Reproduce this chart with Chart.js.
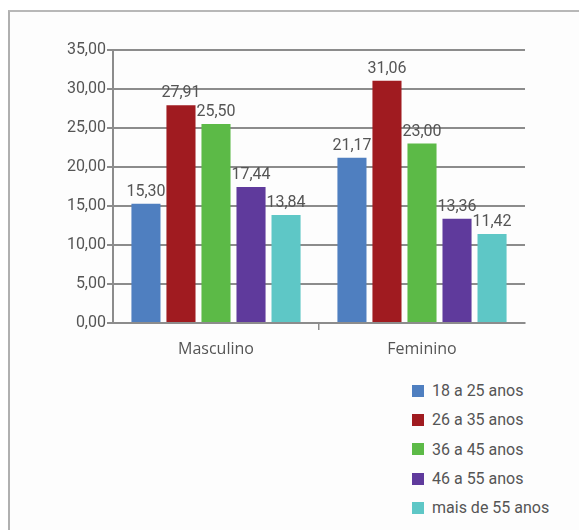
<!DOCTYPE html>
<html>
<head>
<meta charset="utf-8">
<script src="https://cdn.jsdelivr.net/npm/chart.js@4/dist/chart.umd.min.js"></script>
<style>
  html, body { margin: 0; padding: 0; background: #ffffff; }
  body { width: 579px; height: 530px; position: relative; overflow: hidden; }
  #frame {
    position: absolute; left: 8px; top: 10px; width: 580px; height: 530px;
    border-left: 2px solid #b0b0b0; border-top: 2px solid #b8b8b8;
    background: #fdfdfd;
  }
  #wrap { position: absolute; left: 0; top: 0; width: 579px; height: 370px; }
  #legend {
    position: absolute; left: 412px; top: 376px;
    font-family: Roboto, "Noto Sans", sans-serif; font-size: 16px; color: #555;
  }
  .item { display: flex; align-items: center; height: 29.3px; }
  .box { width: 12px; height: 12px; margin-right: 8px; }
</style>
</head>
<body>
<div id="frame"></div>
<div id="wrap"><canvas id="c" width="579" height="370"></canvas></div>
<div id="legend"></div>
<script>
// Categories, age groups and their percentages
const categories = ["Masculino", "Feminino"];
const ageGroups = ["18 a 25 anos", "26 a 35 anos", "36 a 45 anos", "46 a 55 anos", "mais de 55 anos"];
const values18to25 = [15.30, 21.17];
const values26to35 = [27.91, 31.06];
const values36to45 = [25.50, 23.00];
const values46to55 = [17.44, 13.36];
const valuesOver55 = [13.84, 11.42];
const yTicks = [0, 5, 10, 15, 20, 25, 30, 35];
const colors = ["#4f7fc0", "#a01b20", "#5cba47", "#5f3a9c", "#5ec7c6"];

const seriesValues = [values18to25, values26to35, values36to45, values46to55, valuesOver55];
const fmt = v => v.toFixed(2).replace(".", ",");

const datasets = ageGroups.map((label, i) => ({
  label,
  data: seriesValues[i],
  backgroundColor: colors[i],
  borderWidth: 0,
  barPercentage: 0.83,
  categoryPercentage: 0.85
}));

// Value labels above each bar
const valueLabels = {
  id: "valueLabels",
  afterDatasetsDraw(chart) {
    const ctx = chart.ctx;
    ctx.save();
    ctx.font = "16px Roboto, 'Noto Sans', sans-serif";
    ctx.fillStyle = "#555";
    ctx.textAlign = "center";
    ctx.textBaseline = "bottom";
    chart.data.datasets.forEach((ds, i) => {
      chart.getDatasetMeta(i).data.forEach((bar, j) => {
        ctx.fillText(fmt(ds.data[j]), bar.x, bar.y - 4);
      });
    });
    ctx.restore();
  }
};

new Chart(document.getElementById("c"), {
  type: "bar",
  data: { labels: categories, datasets },
  options: {
    responsive: false,
    animation: false,
    devicePixelRatio: 1,
    layout: { padding: { left: 0, right: 54, top: 50, bottom: 7 } },
    plugins: { legend: { display: false }, tooltip: { enabled: false } },
    scales: {
      x: {
        grid: {
          drawOnChartArea: false,
          drawTicks: true,
          tickLength: 7,
          color: ctx => (ctx.index === 1 ? "#8c8c8c" : "rgba(0,0,0,0)"),
          lineWidth: 1.5
        },
        border: { color: "#8c8c8c", width: 2 },
        ticks: {
          padding: 10,
          color: "#555",
          font: { family: "'Open Sans', 'Noto Sans', sans-serif", size: 16 }
        },
        afterFit(scale) { scale.height = 40; }
      },
      y: {
        min: 0,
        max: 35,
        afterBuildTicks(scale) { scale.ticks = yTicks.map(v => ({ value: v })); },
        grid: { color: "#8c8c8c", lineWidth: 2, tickLength: 6 },
        border: { color: "#8c8c8c", width: 2 },
        ticks: {
          padding: 1,
          color: "#555",
          font: { family: "Roboto, 'Noto Sans', sans-serif", size: 16 },
          callback: v => fmt(v)
        },
        afterFit(scale) { scale.width = 113; }
      }
    }
  },
  plugins: [valueLabels]
});

// Legend built from the same series names and colours
const legend = document.getElementById("legend");
ageGroups.forEach((label, i) => {
  const row = document.createElement("div");
  row.className = "item";
  const box = document.createElement("span");
  box.className = "box";
  box.style.background = colors[i];
  const txt = document.createElement("span");
  txt.textContent = label;
  row.appendChild(box);
  row.appendChild(txt);
  legend.appendChild(row);
});
</script>
</body>
</html>
